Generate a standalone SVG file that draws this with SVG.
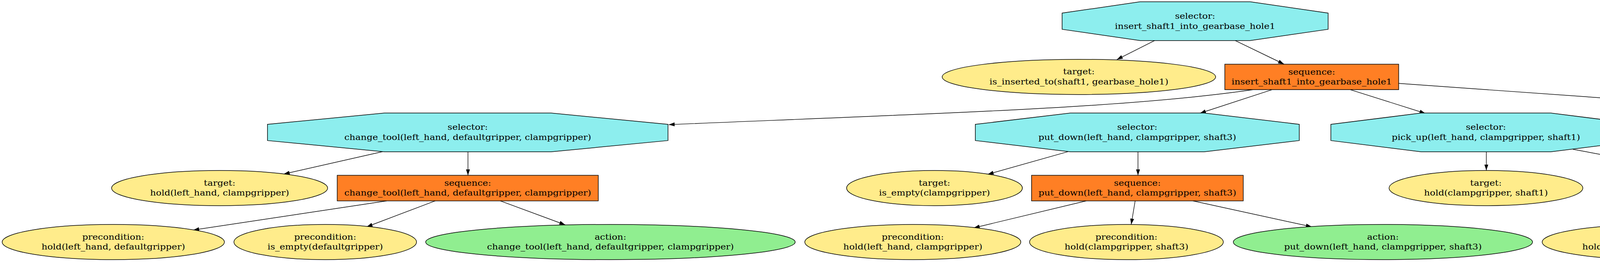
<svg xmlns="http://www.w3.org/2000/svg" width="7928" height="670" viewBox="0 0 7928 670">
<style>
.sel{fill:#8DEEEE;stroke:#000;stroke-width:1.5}
.seq{fill:#FF7F24;stroke:#000;stroke-width:1.5}
.tgt{fill:#FFEC8B;stroke:#000;stroke-width:1.5}
.act{fill:#90EE90;stroke:#000;stroke-width:1.5}
.lbl{font-family:"DejaVu Serif","Liberation Serif",serif;font-size:21.33px;text-anchor:middle;fill:#000}
.edge{fill:none;stroke:#000;stroke-width:1.4;marker-end:url(#ah)}
</style>
<defs>
<marker id="ah" viewBox="0 0 15 10" refX="15" refY="5" markerWidth="15" markerHeight="10" orient="auto" markerUnits="userSpaceOnUse"><path d="M0,0 L15,5 L0,10 z" fill="#000"/></marker>
</defs>
<rect width="7928" height="670" fill="#fff"/>
<g id="connectors">
<path class="edge" d="M2956,103.7 L2859.2,152.3"/>
<path class="edge" d="M3162,103.7 L3287,164"/>
<path class="edge" d="M3208,229.3 C2900,274 2500,286 1712,318.7"/>
<path class="edge" d="M3256.4,229.3 L3072,289.5"/>
<path class="edge" d="M3456.8,229.3 L3649,290"/>
<path class="edge" d="M3580.7,213.3 L4902,307.3"/>
<path class="edge" d="M979.6,387.7 L726.5,445"/>
<path class="edge" d="M1198,388.3 L1198,448.3"/>
<path class="edge" d="M2734.7,387.7 L2528.6,445.7"/>
<path class="edge" d="M2913.3,388.3 L2913.3,448.3"/>
<path class="edge" d="M3805,388.3 L3805,435.7"/>
<path class="edge" d="M4026.5,381.7 L4391.8,450"/>
<path class="edge" d="M5322.4,388.3 L5322.4,435.7"/>
<path class="edge" d="M5628.6,380 L6141.8,449.3"/>
<path class="edge" d="M989.8,513.7 L494.9,588.3"/>
<path class="edge" d="M1114.3,513.7 L938.8,580"/>
<path class="edge" d="M1280.6,513.7 L1447,575"/>
<path class="edge" d="M2780.6,513.7 L2492.9,582.7"/>
<path class="edge" d="M2906,513.7 L2895.9,574"/>
<path class="edge" d="M3054,513.7 L3358.2,580"/>
<path class="edge" d="M4485.7,513.7 L4342.9,576.7"/>
<path class="edge" d="M4611.2,513.7 L4710.2,575"/>
<path class="edge" d="M4751,513.7 L5177.6,583.3"/>
<path class="edge" d="M6310,513.7 L6184.7,576"/>
<path class="edge" d="M6441.9,513.7 L6573.5,576.7"/>
<path class="edge" d="M6616.3,513.7 L7150.4,581.7"/>
</g>
<g id="sel_root">
<polygon class="sel" points="2918.5,4.6 3200.5,4.6 3400,33.5 3400,74.9 3200.5,103.8 2918.5,103.8 2719,74.9 2719,33.5"/>
<text class="lbl" transform="translate(3059.5,54.2) scale(1.1,1)"><tspan x="0" y="-6.3">selector:</tspan><tspan x="0" y="19.3">insert_shaft1_into_gearbase_hole1</tspan></text>
</g>
<g id="tgt_root">
<ellipse class="tgt" cx="2762" cy="196.7" rx="350" ry="45"/>
<text class="lbl" transform="translate(2762,196.7) scale(1.1,1)"><tspan x="0" y="-6.3">target:</tspan><tspan x="0" y="19.3">is_inserted_to(shaft1, gearbase_hole1)</tspan></text>
</g>
<g id="seq_root">
<rect class="seq" x="3135.5" y="164.2" width="445.1" height="65.1"/>
<text class="lbl" transform="translate(3358.1,196.8) scale(1.1,1)"><tspan x="0" y="-6.3">sequence:</tspan><tspan x="0" y="19.3">insert_shaft1_into_gearbase_hole1</tspan></text>
</g>
<g id="sel_change_tool">
<polygon class="sel" points="984.4,289.1 1410.4,289.1 1710.1,318 1710.1,359.4 1410.4,388.3 984.4,388.3 684.7,359.4 684.7,318"/>
<text class="lbl" transform="translate(1197.4,338.7) scale(1.1,1)"><tspan x="0" y="-6.3">selector:</tspan><tspan x="0" y="19.3">change_tool(left_hand, defaultgripper, clampgripper)</tspan></text>
</g>
<g id="sel_put_down">
<polygon class="sel" points="2740.5,289.1 3082.5,289.1 3326.2,318 3326.2,359.4 3082.5,388.3 2740.5,388.3 2496.8,359.4 2496.8,318"/>
<text class="lbl" transform="translate(2911.5,338.7) scale(1.1,1)"><tspan x="0" y="-6.3">selector:</tspan><tspan x="0" y="19.3">put_down(left_hand, clampgripper, shaft3)</tspan></text>
</g>
<g id="sel_pick_up">
<polygon class="sel" points="3638.2,289.1 3969.8,289.1 4201,318 4201,359.4 3969.8,388.3 3638.2,388.3 3407,359.4 3407,318"/>
<text class="lbl" transform="translate(3804,338.7) scale(1.1,1)"><tspan x="0" y="-6.3">selector:</tspan><tspan x="0" y="19.3">pick_up(left_hand, clampgripper, shaft1)</tspan></text>
</g>
<g id="sel_insert">
<polygon class="sel" points="5099.5,289.1 5543.5,289.1 5855.5,318 5855.5,359.4 5543.5,388.3 5099.5,388.3 4787.5,359.4 4787.5,318"/>
<text class="lbl" transform="translate(5321.5,338.7) scale(1.1,1)"><tspan x="0" y="-6.3">selector:</tspan><tspan x="0" y="19.3">insert(left_hand, clampgripper, shaft1, gearbase_hole1)</tspan></text>
</g>
<g id="tgt_change_tool">
<ellipse class="tgt" cx="562.2" cy="481" rx="276.5" ry="45"/>
<text class="lbl" transform="translate(562.2,481) scale(1.1,1)"><tspan x="0" y="-6.3">target:</tspan><tspan x="0" y="19.3">hold(left_hand, clampgripper)</tspan></text>
</g>
<g id="seq_change_tool">
<rect class="seq" x="863.3" y="448.3" width="668.3" height="65.4"/>
<text class="lbl" transform="translate(1197.4,481) scale(1.1,1)"><tspan x="0" y="-6.3">sequence:</tspan><tspan x="0" y="19.3">change_tool(left_hand, defaultgripper, clampgripper)</tspan></text>
</g>
<g id="tgt_put_down">
<ellipse class="tgt" cx="2392.3" cy="481" rx="225" ry="45"/>
<text class="lbl" transform="translate(2392.3,481) scale(1.1,1)"><tspan x="0" y="-6.3">target:</tspan><tspan x="0" y="19.3">is_empty(clampgripper)</tspan></text>
</g>
<g id="seq_put_down">
<rect class="seq" x="2640.8" y="448.3" width="541.9" height="65.4"/>
<text class="lbl" transform="translate(2911.7,481) scale(1.1,1)"><tspan x="0" y="-6.3">sequence:</tspan><tspan x="0" y="19.3">put_down(left_hand, clampgripper, shaft3)</tspan></text>
</g>
<g id="tgt_pick_up">
<ellipse class="tgt" cx="3804" cy="481" rx="248" ry="45"/>
<text class="lbl" transform="translate(3804,481) scale(1.1,1)"><tspan x="0" y="-6.3">target:</tspan><tspan x="0" y="19.3">hold(clampgripper, shaft1)</tspan></text>
</g>
<g id="seq_pick_up">
<rect class="seq" x="4302" y="448.3" width="518.4" height="65.4"/>
<text class="lbl" transform="translate(4561.2,481) scale(1.1,1)"><tspan x="0" y="-6.3">sequence:</tspan><tspan x="0" y="19.3">pick_up(left_hand, clampgripper, shaft1)</tspan></text>
</g>
<g id="tgt_insert">
<ellipse class="tgt" cx="5321" cy="481" rx="365" ry="45"/>
<text class="lbl" transform="translate(5321,481) scale(1.1,1)"><tspan x="0" y="-6.3">"target:</tspan><tspan x="0" y="19.3">is_inserted_to(shaft1, gearbase_hole1)"*</tspan></text>
</g>
<g id="seq_insert">
<rect class="seq" x="6026.5" y="448.3" width="699.5" height="65.4"/>
<text class="lbl" transform="translate(6376.2,481) scale(1.1,1)"><tspan x="0" y="-6.3">sequence:</tspan><tspan x="0" y="19.3">insert(left_hand, clampgripper, shaft1, gearbase_hole1)</tspan></text>
</g>
<g id="pre_ct_1">
<ellipse class="tgt" cx="290" cy="619" rx="284.5" ry="45"/>
<text class="lbl" transform="translate(290,619) scale(1.1,1)"><tspan x="0" y="-6.3">precondition:</tspan><tspan x="0" y="19.3">hold(left_hand, defaultgripper)</tspan></text>
</g>
<g id="pre_ct_2">
<ellipse class="tgt" cx="832.6" cy="619" rx="233.7" ry="45"/>
<text class="lbl" transform="translate(832.6,619) scale(1.1,1)"><tspan x="0" y="-6.3">precondition:</tspan><tspan x="0" y="19.3">is_empty(defaultgripper)</tspan></text>
</g>
<g id="act_ct">
<ellipse class="act" cx="1562.7" cy="619" rx="473" ry="45"/>
<text class="lbl" transform="translate(1562.7,619) scale(1.1,1)"><tspan x="0" y="-6.3">action:</tspan><tspan x="0" y="19.3">change_tool(left_hand, defaultgripper, clampgripper)</tspan></text>
</g>
<g id="pre_pd_1">
<ellipse class="tgt" cx="2336.8" cy="619" rx="276.5" ry="45"/>
<text class="lbl" transform="translate(2336.8,619) scale(1.1,1)"><tspan x="0" y="-6.3">precondition:</tspan><tspan x="0" y="19.3">hold(left_hand, clampgripper)</tspan></text>
</g>
<g id="pre_pd_2">
<ellipse class="tgt" cx="2883.7" cy="619" rx="248" ry="45"/>
<text class="lbl" transform="translate(2883.7,619) scale(1.1,1)"><tspan x="0" y="-6.3">precondition:</tspan><tspan x="0" y="19.3">hold(clampgripper, shaft3)</tspan></text>
</g>
<g id="act_pd">
<ellipse class="act" cx="3540.3" cy="619" rx="383" ry="45"/>
<text class="lbl" transform="translate(3540.3,619) scale(1.1,1)"><tspan x="0" y="-6.3">action:</tspan><tspan x="0" y="19.3">put_down(left_hand, clampgripper, shaft3)</tspan></text>
</g>
<g id="pre_pu_1">
<ellipse class="tgt" cx="4239.8" cy="619" rx="291.8" ry="45"/>
<text class="lbl" transform="translate(4239.8,619) scale(1.1,1)"><tspan x="0" y="-6.3">"precondition:</tspan><tspan x="0" y="19.3">hold(left_hand, clampgripper)"*</tspan></text>
</g>
<g id="pre_pu_2">
<ellipse class="tgt" cx="4781.6" cy="619" rx="225.5" ry="45"/>
<text class="lbl" transform="translate(4781.6,619) scale(1.1,1)"><tspan x="0" y="-6.3">precondition:</tspan><tspan x="0" y="19.3">is_empty(clampgripper)</tspan></text>
</g>
<g id="act_pu">
<ellipse class="act" cx="5397.5" cy="619" rx="367" ry="45"/>
<text class="lbl" transform="translate(5397.5,619) scale(1.1,1)"><tspan x="0" y="-6.3">action:</tspan><tspan x="0" y="19.3">pick_up(left_hand, clampgripper, shaft1)</tspan></text>
</g>
<g id="pre_in_1">
<ellipse class="tgt" cx="6089.3" cy="619" rx="300.5" ry="45"/>
<text class="lbl" transform="translate(6089.3,619) scale(1.1,1)"><tspan x="0" y="-6.3">"precondition:</tspan><tspan x="0" y="19.3">hold(left_hand, clampgripper)"**</tspan></text>
</g>
<g id="pre_in_2">
<ellipse class="tgt" cx="6662" cy="619" rx="247.5" ry="45"/>
<text class="lbl" transform="translate(6662,619) scale(1.1,1)"><tspan x="0" y="-6.3">precondition:</tspan><tspan x="0" y="19.3">hold(clampgripper, shaft1)</tspan></text>
</g>
<g id="act_in">
<ellipse class="act" cx="7428.6" cy="619" rx="493.6" ry="45"/>
<text class="lbl" transform="translate(7428.6,619) scale(1.1,1)"><tspan x="0" y="-6.3">action:</tspan><tspan x="0" y="19.3">insert(left_hand, clampgripper, shaft1, gearbase_hole1)</tspan></text>
</g>
</svg>
